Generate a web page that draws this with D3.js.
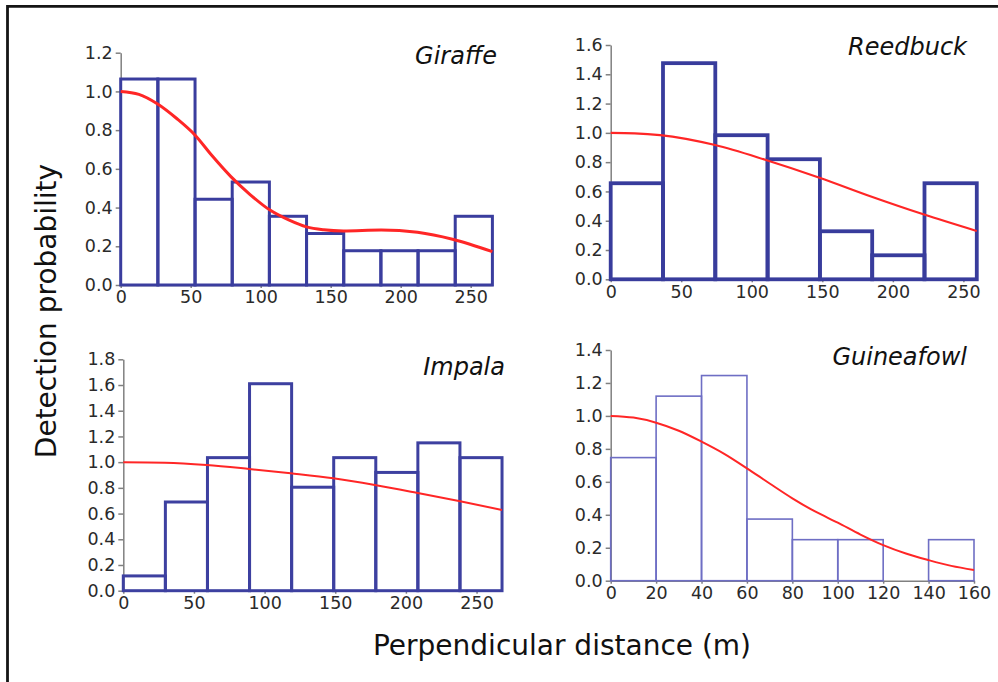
<!DOCTYPE html>
<html>
<head>
<meta charset="utf-8">
<script src="https://cdn.jsdelivr.net/npm/d3@7"></script>
<style>
  body { margin: 0; background: #fff; }
  svg { display: block; font-family: "DejaVu Sans", Verdana, sans-serif; }
  .axis path, .axis line { stroke: #808080; stroke-width: 1.5; }
  .title { font-size: 24px; font-style: italic; fill: #111; }
  .bigLabel { font-size: 28px; fill: #111; }
</style>
</head>
<body>
<div id="chart"></div>
<script>
// species histograms: scaled frequencies per distance bin (m)
const giraffeBinWidth = 26.55;
const giraffeBins = [1.064, 1.064, 0.443, 0.532, 0.355, 0.266, 0.177, 0.177, 0.177, 0.355];
const giraffeCurve = [[0, 1.0], [13, 0.985], [26.4, 0.935], [40, 0.86], [53, 0.775], [65, 0.67],
  [78.7, 0.56], [92, 0.47], [106.6, 0.387], [120, 0.336], [132.7, 0.30], [145, 0.285],
  [159, 0.279], [186, 0.284], [212, 0.272], [237, 0.236], [265.5, 0.172]];

const reedbuckBinWidth = 37.07;
const reedbuckBins = [0.656, 1.476, 0.984, 0.82, 0.328, 0.164, 0.656];
const reedbuckCurve = [[0, 1.0], [17, 0.997], [35, 0.985], [74, 0.917], [110, 0.815],
  [148, 0.694], [185, 0.564], [221.6, 0.444], [259.5, 0.33]];

const impalaBinWidth = 29.78;
const impalaBins = [0.115, 0.69, 1.035, 1.61, 0.805, 1.035, 0.92, 1.15, 1.035];
const impalaCurve = [[0, 1.0], [29.5, 0.996], [59, 0.978], [89, 0.947], [118.4, 0.913],
  [148.6, 0.874], [178, 0.822], [207.5, 0.762], [237.5, 0.698], [268, 0.628]];

const guineaBinWidth = 20;
const guineaBins = [0.747, 1.12, 1.245, 0.374, 0.249, 0.249, 0, 0.249];
const guineaCurve = [[0, 1.0], [10, 0.99], [20, 0.959], [30, 0.91], [40, 0.844], [50, 0.77],
  [60, 0.682], [70, 0.59], [80, 0.50], [90, 0.42], [100, 0.352], [110, 0.28], [120, 0.216],
  [130, 0.165], [140, 0.125], [150, 0.09], [160, 0.065]];

const ticks250 = [0, 50, 100, 150, 200, 250];
const ticks160 = [0, 20, 40, 60, 80, 100, 120, 140, 160];

const width = 998, height = 682;

const svg = d3.select("#chart").append("svg")
  .attr("width", width)
  .attr("height", height);

// frame (left and top edges only)
svg.append("path")
  .attr("d", `M7.5,${height} V6.3 H${width}`)
  .attr("fill", "none")
  .attr("stroke", "#151515")
  .attr("stroke-width", 2.8);

const panels = [
  { name: "Giraffe", bins: giraffeBins, bw: giraffeBinWidth, curve: giraffeCurve,
    xmax: 265.5, ymax: 1.2, xticks: ticks250,
    left: 120.7, right: 492.4, top: 52.7, bottom: 285, titleX: 497, titleY: 64,
    barColor: "#3a3d9e", barW: 3, curveW: 3 },
  { name: "Reedbuck", bins: reedbuckBins, bw: reedbuckBinWidth, curve: reedbuckCurve,
    xmax: 259.5, ymax: 1.6, xticks: ticks250,
    left: 610.7, right: 976.8, top: 45, bottom: 279.3, titleX: 967, titleY: 55,
    barColor: "#383c9c", barW: 3.8, curveW: 2.2 },
  { name: "Impala", bins: impalaBins, bw: impalaBinWidth, curve: impalaCurve,
    xmax: 268, ymax: 1.8, xticks: ticks250,
    left: 123.3, right: 502, top: 359.3, bottom: 590.7, titleX: 505, titleY: 375,
    barColor: "#3d40a0", barW: 3, curveW: 2 },
  { name: "Guineafowl", bins: guineaBins, bw: guineaBinWidth, curve: guineaCurve,
    xmax: 160, ymax: 1.4, xticks: ticks160,
    left: 610.7, right: 974, top: 350, bottom: 580.7, titleX: 967, titleY: 365,
    barColor: "#6e6ec4", barW: 1.6, curveW: 2 }
];

panels.forEach(p => drawPanel(p));

function drawPanel(p) {
  const x = d3.scaleLinear().domain([0, p.xmax]).range([p.left, p.right]);
  const y = d3.scaleLinear().domain([0, p.ymax]).range([p.bottom, p.top]);
  const g = svg.append("g");

  const yTicks = d3.range(0, p.ymax + 1e-9, 0.2);

  const yAxisG = g.append("g")
    .attr("class", "axis")
    .attr("transform", `translate(${p.left},0)`)
    .call(d3.axisLeft(y).tickValues(yTicks).tickFormat(d3.format(".1f"))
      .tickSize(5).tickPadding(3).tickSizeOuter(0));

  const xAxisG = g.append("g")
    .attr("class", "axis")
    .attr("transform", `translate(0,${p.bottom})`)
    .call(d3.axisBottom(x).tickValues(p.xticks).tickFormat(d3.format("d"))
      .tickSize(3).tickPadding(3).tickSizeOuter(0));

  [yAxisG, xAxisG].forEach(a => a.selectAll("text")
    .style("font-size", "17.5px")
    .style("font-family", "'DejaVu Sans', Verdana, sans-serif")
    .style("fill", "#2a2a2a"));

  // histogram bars, outline only
  g.selectAll("rect.bar")
    .data(p.bins)
    .enter()
    .append("rect")
    .attr("class", "bar")
    .attr("x", (d, i) => x(i * p.bw))
    .attr("width", (d, i) => x((i + 1) * p.bw) - x(i * p.bw))
    .attr("y", d => y(d))
    .attr("height", d => y(0) - y(d))
    .attr("fill", "none")
    .attr("stroke", p.barColor)
    .attr("stroke-width", p.barW);

  const line = d3.line()
    .x(d => x(d[0]))
    .y(d => y(d[1]))
    .curve(d3.curveMonotoneX);

  g.append("path")
    .datum(p.curve)
    .attr("d", line)
    .attr("fill", "none")
    .attr("stroke", "#ff2626")
    .attr("stroke-width", p.curveW);

  g.append("text")
    .attr("class", "title")
    .attr("x", p.titleX)
    .attr("y", p.titleY)
    .attr("text-anchor", "end")
    .text(p.name);
}

svg.append("text")
  .attr("class", "bigLabel")
  .attr("x", 562)
  .attr("y", 655)
  .attr("text-anchor", "middle")
  .text("Perpendicular distance (m)");

svg.append("text")
  .attr("class", "bigLabel")
  .attr("transform", "translate(56,311) rotate(-90)")
  .attr("text-anchor", "middle")
  .text("Detection probability");
</script>
</body>
</html>
